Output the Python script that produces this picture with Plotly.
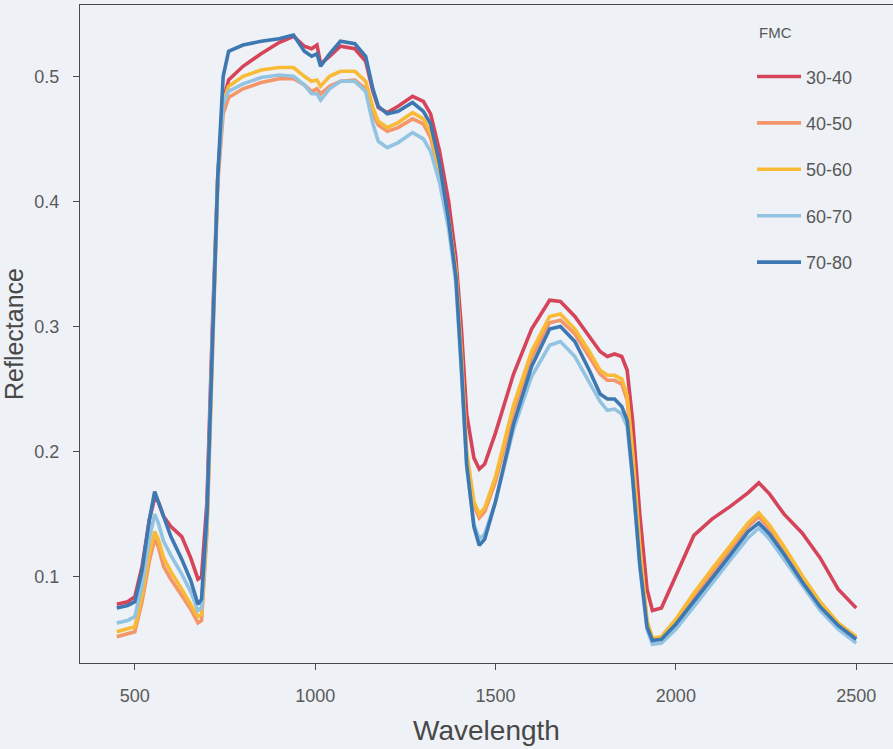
import plotly.graph_objects as go

wavelength = [450, 480, 500, 520, 540, 555, 565, 580, 600, 630, 655, 675, 685, 700, 715, 730, 745, 760,
              800, 850, 900, 940, 970, 990, 1005, 1015, 1040, 1070, 1110, 1140, 1160, 1175, 1200, 1230,
              1270, 1300, 1320, 1345, 1370, 1390, 1405, 1420, 1440, 1455, 1470, 1500, 1550, 1600, 1650,
              1680, 1720, 1760, 1790, 1810, 1830, 1850, 1865, 1880, 1900, 1920, 1935, 1960, 2000, 2050,
              2100, 2150, 2200, 2230, 2260, 2300, 2350, 2400, 2450, 2500]

fmc_30_40 = [0.078, 0.080, 0.084, 0.108, 0.145, 0.163, 0.160, 0.148, 0.140, 0.132, 0.115, 0.098, 0.100, 0.160,
             0.300, 0.420, 0.480, 0.497, 0.508, 0.518, 0.527, 0.532, 0.524, 0.522, 0.525, 0.510, 0.516, 0.524,
             0.522, 0.512, 0.488, 0.475, 0.471, 0.476, 0.484, 0.480, 0.470, 0.440, 0.400, 0.355, 0.300, 0.230,
             0.195, 0.186, 0.190, 0.215, 0.262, 0.298, 0.321, 0.320, 0.308, 0.292, 0.280, 0.276, 0.278, 0.276,
             0.265, 0.225, 0.150, 0.090, 0.073, 0.075, 0.100, 0.133, 0.146, 0.156, 0.167, 0.175, 0.166, 0.150,
             0.135, 0.115, 0.090, 0.075]

fmc_40_50 = [0.052, 0.054, 0.056, 0.080, 0.112, 0.130, 0.124, 0.108, 0.098, 0.085, 0.074, 0.063, 0.065, 0.135,
             0.280, 0.415, 0.470, 0.483, 0.490, 0.495, 0.498, 0.498, 0.493, 0.488, 0.490, 0.486, 0.492, 0.496,
             0.497, 0.490, 0.470, 0.461, 0.456, 0.459, 0.466, 0.462, 0.451, 0.422, 0.383, 0.343, 0.275, 0.195,
             0.157, 0.147, 0.152, 0.176, 0.232, 0.275, 0.303, 0.305, 0.294, 0.276, 0.262, 0.257, 0.257, 0.254,
             0.241, 0.195, 0.120, 0.063, 0.050, 0.051, 0.064, 0.084, 0.103, 0.121, 0.140, 0.148, 0.138, 0.121,
             0.099, 0.078, 0.062, 0.051]

fmc_50_60 = [0.056, 0.058, 0.060, 0.085, 0.118, 0.136, 0.130, 0.115, 0.104, 0.090, 0.078, 0.068, 0.070, 0.140,
             0.285, 0.420, 0.480, 0.492, 0.500, 0.505, 0.507, 0.507, 0.500, 0.496, 0.497, 0.492, 0.500, 0.504,
             0.504, 0.496, 0.475, 0.464, 0.459, 0.463, 0.471, 0.466, 0.455, 0.425, 0.385, 0.345, 0.280, 0.200,
             0.160, 0.150, 0.155, 0.180, 0.237, 0.280, 0.308, 0.310, 0.298, 0.280, 0.265, 0.261, 0.261, 0.258,
             0.245, 0.200, 0.125, 0.065, 0.051, 0.052, 0.066, 0.087, 0.106, 0.124, 0.143, 0.151, 0.141, 0.124,
             0.101, 0.080, 0.063, 0.052]

fmc_60_70 = [0.063, 0.065, 0.068, 0.093, 0.130, 0.150, 0.143, 0.128, 0.117, 0.102, 0.088, 0.073, 0.075, 0.145,
             0.288, 0.420, 0.478, 0.488, 0.494, 0.499, 0.501, 0.500, 0.493, 0.486, 0.486, 0.481, 0.490, 0.496,
             0.496, 0.488, 0.462, 0.448, 0.443, 0.447, 0.455, 0.450, 0.440, 0.415, 0.378, 0.335, 0.265, 0.188,
             0.142, 0.130, 0.134, 0.160, 0.218, 0.260, 0.285, 0.288, 0.276, 0.255, 0.240, 0.233, 0.234, 0.230,
             0.220, 0.178, 0.108, 0.058, 0.046, 0.047, 0.058, 0.076, 0.095, 0.113, 0.131, 0.139, 0.130, 0.114,
             0.093, 0.073, 0.058, 0.047]

fmc_70_80 = [0.075, 0.077, 0.080, 0.105, 0.145, 0.168, 0.160, 0.148, 0.132, 0.114, 0.097, 0.078, 0.082, 0.150,
             0.290, 0.420, 0.500, 0.520, 0.525, 0.528, 0.530, 0.533, 0.520, 0.516, 0.518, 0.508, 0.518, 0.528,
             0.526, 0.516, 0.490, 0.476, 0.470, 0.472, 0.479, 0.472, 0.462, 0.430, 0.385, 0.340, 0.270, 0.190,
             0.140, 0.125, 0.130, 0.160, 0.222, 0.268, 0.298, 0.300, 0.288, 0.265, 0.246, 0.242, 0.242, 0.236,
             0.225, 0.180, 0.110, 0.060, 0.049, 0.050, 0.062, 0.080, 0.099, 0.117, 0.136, 0.143, 0.134, 0.118,
             0.096, 0.076, 0.061, 0.050]

series_names = ["30-40", "40-50", "50-60", "60-70", "70-80"]
series_values = [fmc_30_40, fmc_40_50, fmc_50_60, fmc_60_70, fmc_70_80]
series_colors = ["#d6445a", "#f4956a", "#f9bb35", "#93c3e2", "#3d78b2"]

legend_title = "FMC"
x_ticks = [500, 1000, 1500, 2000, 2500]
y_ticks = [0.1, 0.2, 0.3, 0.4, 0.5]

bg = "#eef1f6"

fig = go.Figure()
for name, vals, col in zip(series_names, series_values, series_colors):
    fig.add_trace(go.Scatter(
        x=wavelength, y=vals, mode="lines", name=name, legendgroup=name,
        line=dict(color=col, width=3.6),
    ))

fig.update_layout(
    width=893, height=749,
    margin=dict(l=80, r=0, t=5, b=86),
    paper_bgcolor=bg, plot_bgcolor=bg,
    font=dict(family="Liberation Sans, Arial, sans-serif", color="#555555"),
    showlegend=True,
    legend=dict(
        x=0.8266, y=0.919, xanchor="left", yanchor="top",
        bgcolor="rgba(0,0,0,0)",
        font=dict(size=18, color="#585858"),
        tracegroupgap=20,
        itemwidth=44,
    ),
    annotations=[dict(
        text=legend_title, xref="paper", yref="paper",
        x=(757 - 80) / 813, y=1 - (32 - 5) / 658, xanchor="left", yanchor="middle",
        showarrow=False, font=dict(size=15, color="#585858"),
    )],
)

fig.update_xaxes(
    range=[348, 2602], tickvals=x_ticks, ticktext=[str(t) for t in x_ticks],
    showgrid=False, zeroline=False, showline=True, mirror=True, automargin=False,
    linecolor="#4a4a4a", linewidth=1.3,
    ticks="outside", ticklen=6, tickcolor="#4a4a4a", tickwidth=1.2,
    ticklabelstandoff=10,
    tickfont=dict(size=18, color="#5a5a5a"),
    title=dict(text="Wavelength", font=dict(size=28, color="#484848"), standoff=15),
)
fig.update_yaxes(
    range=[0.031, 0.557], tickvals=y_ticks, ticktext=[f"{t:.1f}" for t in y_ticks],
    showgrid=False, zeroline=False, showline=True, mirror=True, automargin=False,
    linecolor="#4a4a4a", linewidth=1.3,
    ticks="outside", ticklen=6, tickcolor="#4a4a4a", tickwidth=1.2,
    ticklabelstandoff=10,
    tickfont=dict(size=18, color="#5a5a5a"),
    title=dict(text="Reflectance", font=dict(size=25, color="#484848"), standoff=4),
)

fig.write_html("out.html")
